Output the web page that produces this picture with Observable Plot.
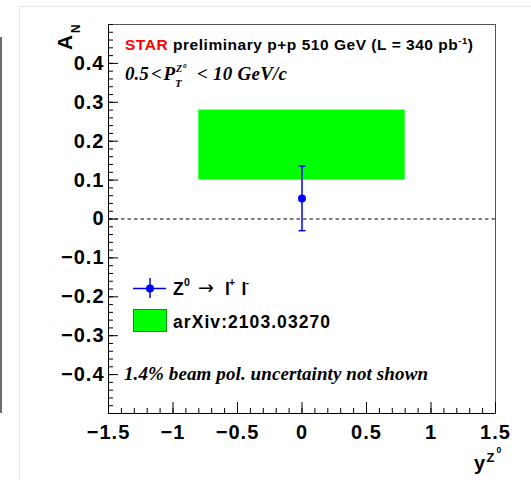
<!DOCTYPE html>
<html><head><meta charset="utf-8">
<script src="https://cdn.jsdelivr.net/npm/d3@7"></script>
<script src="https://cdn.jsdelivr.net/npm/@observablehq/plot@0.6"></script>
<style>
html,body{margin:0;padding:0;background:#fff;}
#wrap{position:relative;width:531px;height:480px;overflow:hidden;background:#fff;}
#wrap > svg{position:absolute;left:0;top:0;}
g[aria-label="x-axis tick label"] text, g[aria-label="y-axis tick label"] text{letter-spacing:1px;}
</style></head><body><div id="wrap"></div>
<script>
// ---- data ----
const rapidity = [0.0];
const asymmetry = [0.053];
const asymErr = [0.083];
const theoryRapLow = [-0.8];
const theoryRapHigh = [0.8];
const theoryANLow = [0.10];
const theoryANHigh = [0.28];
const xTicks = [-1.5, -1, -0.5, 0, 0.5, 1, 1.5];
const yTicks = [-0.4, -0.3, -0.2, -0.1, 0, 0.1, 0.2, 0.3, 0.4];
const xDomain = [-1.5, 1.5];
const yDomain = [-0.5, 0.5];
const xMinor = d3.range(-15, 16).map(i => i / 10);
const yMinor = d3.range(-25, 26).map(i => i / 50);

const points = rapidity.map((x, i) => ({x, y: asymmetry[i], lo: asymmetry[i] - asymErr[i], hi: asymmetry[i] + asymErr[i]}));
const theory = theoryRapLow.map((x1, i) => ({x1, x2: theoryRapHigh[i], y1: theoryANLow[i], y2: theoryANHigh[i]}));

const fmt = d => d === 0 ? "0" : (d < 0 ? "\u2212" : "") + String(Math.abs(d));
const blank = () => "";
const capSymbol = {draw(ctx, size) { const w = Math.sqrt(size / Math.PI); ctx.moveTo(-w, 0); ctx.lineTo(w, 0); }};
const BLUE = "#0000ff";
const FONT = "Liberation Sans, Arial, sans-serif";

const chart = Plot.plot({
  width: 531, height: 480,
  marginLeft: 108, marginRight: 36, marginTop: 24, marginBottom: 67,
  x: {domain: xDomain},
  y: {domain: yDomain},
  style: {background: "transparent", overflow: "visible"},
  marks: [
    Plot.rect(theory, {x1: "x1", x2: "x2", y1: "y1", y2: "y2", fill: "#00ff00"}),
    Plot.ruleY([0], {stroke: "#000", strokeWidth: 1, strokeDasharray: "3.5,3"}),
    Plot.frame({stroke: "#555"}),
    Plot.ruleX([xDomain[0]], {stroke: "#000"}),
    Plot.ruleY([yDomain[0]], {stroke: "#000"}),
    Plot.axisX({ticks: xMinor, tickSize: -5, tickPadding: 0, tickFormat: blank, label: null}),
    Plot.axisX({ticks: xTicks, tickSize: -11, tickPadding: 22, tickFormat: fmt, label: null,
      fontSize: 20, fontWeight: "bold", fontFamily: FONT, fill: "#000"}),
    Plot.axisY({ticks: yMinor, tickSize: -5, tickPadding: 0, tickFormat: blank, label: null}),
    Plot.axisY({ticks: yTicks, tickSize: -10, tickPadding: 14, tickFormat: fmt, label: null,
      fontSize: 20, fontWeight: "bold", fontFamily: FONT, fill: "#000"}),
    Plot.ruleX(points, {x: "x", y1: "lo", y2: "hi", stroke: BLUE, strokeWidth: 1.5}),
    Plot.dot(points, {x: "x", y: "hi", r: 3.5, symbol: capSymbol, stroke: BLUE, strokeWidth: 1.5, fill: "none"}),
    Plot.dot(points, {x: "x", y: "lo", r: 3.5, symbol: capSymbol, stroke: BLUE, strokeWidth: 1.5, fill: "none"}),
    Plot.dot(points, {x: "x", y: "y", r: 4, fill: BLUE, stroke: "none"})
  ]
});
document.getElementById("wrap").appendChild(chart);

const overlay = `
<svg xmlns="http://www.w3.org/2000/svg" width="531" height="480" style="position:absolute;left:0;top:0;pointer-events:none">
  <line x1="19.5" y1="6.5" x2="531" y2="6.5" stroke="#e6e6e6" stroke-width="1"/>
  <line x1="19.5" y1="6.5" x2="19.5" y2="480" stroke="#e6e6e6" stroke-width="1"/>
  <line x1="1" y1="37" x2="1" y2="413" stroke="#6d6d6d" stroke-width="2"/>
  <g font-family="${FONT}" font-weight="bold" fill="#000">
    <text x="125" y="50" font-size="15.5" textLength="348" lengthAdjust="spacing"><tspan fill="#ff0000">STAR</tspan> preliminary p+p 510 GeV (L = 340 pb<tspan font-size="9.5" dy="-6.5">-1</tspan><tspan dy="6.5">)</tspan></text>
    <text transform="translate(72,50) rotate(-90)" font-size="21">A</text>
    <text transform="translate(80,33) rotate(-90)" font-size="12">N</text>
    <text x="474" y="470" font-size="20">y</text>
    <text x="486.5" y="462" font-size="13">Z</text>
    <text x="496.5" y="453" font-size="8.5">0</text>
    <text x="173" y="295" font-size="17.5">Z</text>
    <text x="184" y="286" font-size="10.5">0</text>
    <text x="198" y="294" font-size="19" font-family="DejaVu Sans" font-weight="normal">\u2192</text>
    <text x="225" y="295" font-size="17.5">l</text>
    <text x="229" y="286" font-size="10.5">+</text>
    <text x="241.5" y="295" font-size="17.5">l</text>
    <text x="245.5" y="286" font-size="10.5">-</text>
    <text x="173" y="328" font-size="17.5" textLength="157" lengthAdjust="spacing">arXiv:2103.03270</text>
  </g>
  <g font-family="Liberation Serif, Times New Roman, serif" font-weight="bold" font-style="italic" fill="#000">
    <text x="125" y="80" font-size="19">0.5</text>
    <text x="151" y="80" font-size="19">&lt;</text>
    <text x="163.5" y="80" font-size="19">P</text>
    <text x="176" y="71.5" font-size="10">Z</text>
    <text x="183" y="67.5" font-size="7">0</text>
    <text x="175" y="86.5" font-size="11">T</text>
    <text x="197" y="80" font-size="19" textLength="90" lengthAdjust="spacing">&lt; 10 GeV/c</text>
    <text x="124" y="380" font-size="19" textLength="304" lengthAdjust="spacing">1.4% beam pol. uncertainty not shown</text>
  </g>
  <g>
    <line x1="133" y1="288.5" x2="166" y2="288.5" stroke="${BLUE}" stroke-width="1.5"/>
    <line x1="150" y1="278" x2="150" y2="298" stroke="${BLUE}" stroke-width="1.5"/>
    <circle cx="150" cy="288.5" r="4" fill="${BLUE}"/>
    <rect x="133.5" y="309.5" width="33" height="22" fill="#00ff00" stroke="#009900" stroke-width="1"/>
  </g>
</svg>`;
document.getElementById("wrap").insertAdjacentHTML("beforeend", overlay);
</script>
</body></html>
